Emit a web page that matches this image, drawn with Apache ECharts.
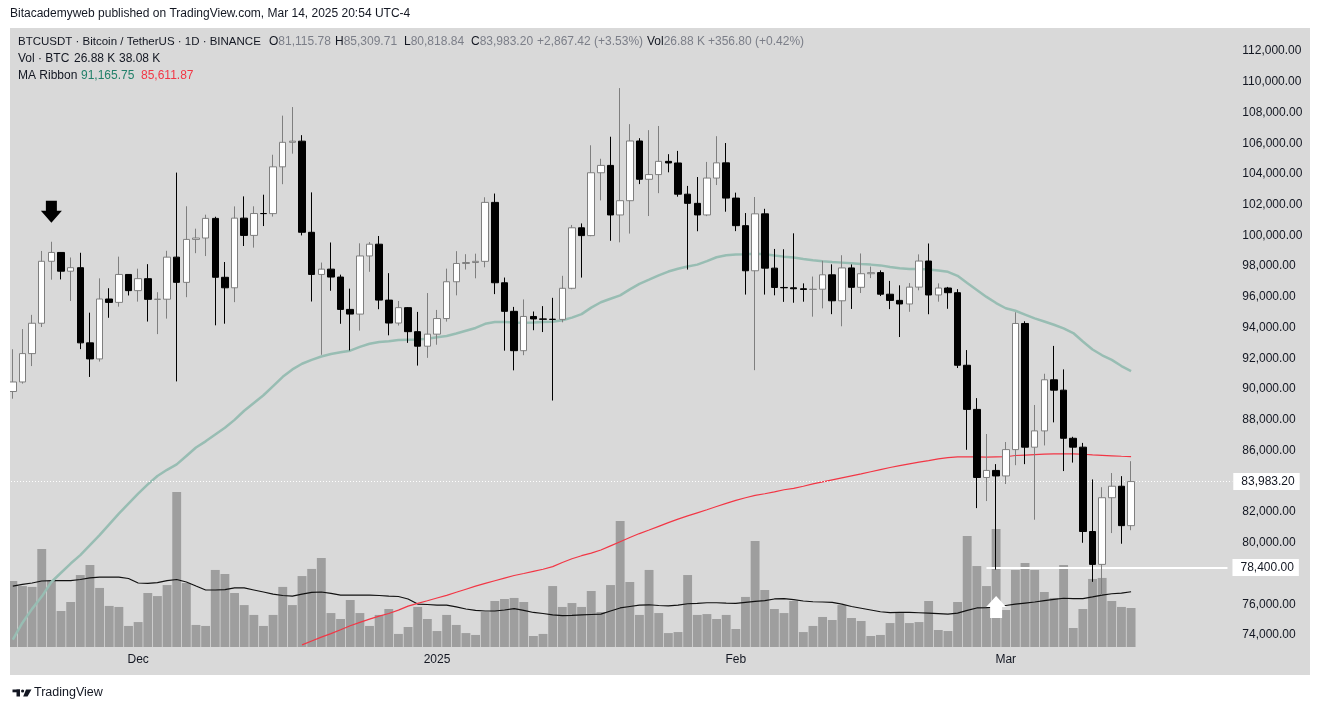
<!DOCTYPE html>
<html><head><meta charset="utf-8">
<script src="https://cdn.jsdelivr.net/npm/echarts/dist/echarts.min.js"></script>
<style>html,body{margin:0;padding:0;background:#fff}#c{width:1320px;height:710px}</style>
</head><body><div id="c"></div><script>
const FONT = "'Liberation Sans', Arial, sans-serif";

const dates = [
'2024-11-18','2024-11-19','2024-11-20','2024-11-21','2024-11-22','2024-11-23','2024-11-24','2024-11-25','2024-11-26','2024-11-27','2024-11-28','2024-11-29','2024-11-30',
'2024-12-01','2024-12-02','2024-12-03','2024-12-04','2024-12-05','2024-12-06','2024-12-07','2024-12-08','2024-12-09','2024-12-10','2024-12-11','2024-12-12','2024-12-13','2024-12-14','2024-12-15','2024-12-16','2024-12-17','2024-12-18','2024-12-19','2024-12-20','2024-12-21','2024-12-22','2024-12-23','2024-12-24','2024-12-25','2024-12-26','2024-12-27','2024-12-28','2024-12-29','2024-12-30','2024-12-31',
'2025-01-01','2025-01-02','2025-01-03','2025-01-04','2025-01-05','2025-01-06','2025-01-07','2025-01-08','2025-01-09','2025-01-10','2025-01-11','2025-01-12','2025-01-13','2025-01-14','2025-01-15','2025-01-16','2025-01-17','2025-01-18','2025-01-19','2025-01-20','2025-01-21','2025-01-22','2025-01-23','2025-01-24','2025-01-25','2025-01-26','2025-01-27','2025-01-28','2025-01-29','2025-01-30','2025-01-31',
'2025-02-01','2025-02-02','2025-02-03','2025-02-04','2025-02-05','2025-02-06','2025-02-07','2025-02-08','2025-02-09','2025-02-10','2025-02-11','2025-02-12','2025-02-13','2025-02-14','2025-02-15','2025-02-16','2025-02-17','2025-02-18','2025-02-19','2025-02-20','2025-02-21','2025-02-22','2025-02-23','2025-02-24','2025-02-25','2025-02-26','2025-02-27','2025-02-28',
'2025-03-01','2025-03-02','2025-03-03','2025-03-04','2025-03-05','2025-03-06','2025-03-07','2025-03-08','2025-03-09','2025-03-10','2025-03-11','2025-03-12','2025-03-13','2025-03-14'];
const padDates = ['2025-03-15','2025-03-16','2025-03-17','2025-03-18','2025-03-19','2025-03-20','2025-03-21','2025-03-22','2025-03-23','2025-03-24'];
const tickLabels = {'2024-12-01':'Dec','2025-01-01':'2025','2025-02-01':'Feb','2025-03-01':'Mar'};

const opens = [89845,90464,92310,94286,98317,98892,97672,97900,93010,91965,95863,95643,97460,
96407,97185,95840,95849,98587,96945,99740,99831,101109,97276,96593,101125,100001,101424,101420,104463,106058,106133,100204,97461,97805,97291,95186,94881,98663,99429,95791,94299,95300,93738,92792,
93576,94591,96985,98174,98236,98314,102150,96920,95060,92500,94727,94566,94545,94536,96560,100497,99987,104077,104556,101331,102260,106144,103653,103958,104819,104714,102682,102087,101332,103733,104722,
102429,100635,97700,101405,97871,96615,96593,96529,96482,96500,97437,95747,97885,96623,97508,97580,96175,95773,95539,96635,98333,96125,96577,96273,91552,88680,84250,84708,
84349,86064,94270,86220,87281,90606,89931,86801,86222,80734,78595,82932,83680,81115.78];
const highs = [92594,93905,94831,98988,99588,98908,98564,98871,94973,97208,96564,98619,97463,
97836,98130,96305,99000,104088,101898,100439,101350,101215,98270,101888,102540,101895,102650,105250,107793,108353,106524,102800,98233,99540,97448,96538,99487,99569,99963,97544,95733,95340,95024,96250,
95151,97839,98976,98778,98813,102482,102724,97258,95349,95836,95050,95400,95940,97371,100681,100781,105865,104988,106422,109588,107240,106327,106850,107120,105286,105500,103221,103800,104782,106457,106012,
102783,101456,102500,101732,99120,99100,100137,96880,97323,98345,98119,98711,98111,98826,97972,97725,97040,96753,96899,98766,99475,96880,96650,96503,92540,89414,87078,85120,
86558,95000,94416,88967,91000,92810,91283,86897,86500,84123,83617,84539,84336,85309.71];
const lows = [89376,90357,91500,94040,97122,97136,95734,92600,90791,91792,94640,95364,96092,
95693,94395,93578,94587,90500,95981,98844,98657,94150,94256,95658,99311,99205,100609,101227,103333,105321,100000,95700,92232,96398,94250,92520,93806,97632,95199,93500,94135,93009,91530,92033,
92888,94392,96100,97781,97210,97926,96181,92500,91220,92206,93831,93712,89256,94346,96500,97256,99950,102277,99651,99550,100119,103339,101262,102750,104106,102520,97777,100272,101256,103278,101543,
100279,96150,91231,96150,96102,95676,95620,95688,94713,95256,94876,94088,95217,96252,97223,96055,95205,93388,95029,96430,94871,95688,95227,91371,86050,82256,82716,78258,
83824,85050,85117,81500,86334,87836,84667,85218,80000,77459,76606,80633,79939,80818.84];
const closes = [90464,92310,94286,98317,98892,97672,97900,93010,91965,95863,95643,97460,96407,
97185,95840,95849,98587,96945,99740,99831,101109,97276,96593,101125,100001,101424,101420,104463,106058,106133,100204,97461,97805,97291,95186,94881,98663,99429,95791,94299,95300,93738,92792,93576,
94591,96985,98174,98236,98314,102150,96920,95060,92500,94727,94566,94545,94536,96560,100497,99987,104077,104556,101331,102260,106144,103653,103958,104819,104714,102682,102087,101332,103733,104722,102429,
100635,97700,101405,97871,96615,96593,96529,96482,96500,97437,95747,97885,96623,97508,97580,96175,95773,95539,96635,98333,96125,96577,96273,91552,88680,84250,84708,84349,
86064,94270,86220,87281,90606,89931,86801,86222,80734,78595,82932,83680,81115.78,83983.20];

// volume in thousands of BTC
const volumes = [45.5,42.0,41.4,67.5,45.5,24.8,31.0,49.6,56.5,40.7,28.3,27.6,14.5,
17.2,37.2,35.1,42.7,106.8,44.1,15.2,14.5,53.1,50.3,37.2,28.9,22.1,14.5,22.1,41.4,28.9,48.9,53.8,61.3,23.4,19.3,32.4,23.4,14.5,22.1,26.2,9.0,13.8,27.6,19.3,
11.0,22.1,15.2,9.6,8.3,24.1,31.7,33.1,33.8,31.0,7.6,9.0,42.0,27.6,30.3,27.6,38.6,24.1,42.7,86.8,44.8,22.1,53.1,23.4,9.6,10.3,49.6,22.1,22.7,19.3,22.1,
12.4,34.5,73.1,39.3,26.2,23.4,31.7,10.3,14.5,20.7,18.6,28.9,20.0,17.9,7.6,8.3,16.5,23.4,16.5,17.2,31.7,11.7,11.0,31.0,76.5,55.8,42.0,81.3,
25.5,53.1,57.9,53.1,37.9,33.8,56.5,13.1,26.2,46.9,47.6,31.7,27.6,26.88];
const volumeMA = [42.0,43.1,44.1,45.5,45.8,45.8,45.8,46.5,47.6,48.2,48.2,48.2,47.2,
44.1,43.8,44.4,45.8,46.5,44.8,42.0,39.3,39.3,39.6,40.7,40.7,39.3,37.9,36.5,35.5,35.1,36.5,37.6,37.9,36.9,35.8,35.8,35.8,35.8,35.5,35.1,34.8,33.1,29.6,29.3,
28.9,28.9,27.6,26.2,25.2,24.8,24.8,25.5,26.5,25.2,23.8,23.1,22.1,21.6,21.8,22.1,22.4,22.7,24.8,26.9,27.9,28.9,29.1,28.6,28.4,28.9,29.8,30.1,30.5,30.5,30.2,
30.0,30.7,31.4,32.0,33.1,33.4,32.7,31.7,31.2,31.0,30.7,29.6,27.9,26.7,25.5,24.3,23.7,23.8,23.9,23.6,23.3,23.0,22.7,23.4,25.2,26.9,27.2,27.7,
28.6,29.5,30.3,31.0,31.9,32.8,33.6,33.4,33.3,34.5,35.8,36.7,37.1,38.08];
const maRibbonFast = [73700,74800,75700,76500,77450,78050,78650,79200,79850,80500,81200,81900,82550,
83200,83800,84350,84750,85100,85650,86200,86600,87050,87480,88000,88590,89100,89600,90200,90800,91280,91650,91900,92120,92280,92400,92500,92750,92950,93070,93120,93190,93210,93230,93270,
93380,93460,93620,93800,93980,94250,94360,94360,94330,94320,94340,94370,94390,94480,94650,94880,95300,95650,95880,96100,96490,96850,97120,97400,97650,97830,97980,98100,98330,98580,98710,
98760,98770,98800,98780,98690,98620,98570,98470,98380,98320,98270,98230,98190,98140,98100,98050,97940,97860,97815,97815,97780,97710,97630,97370,96900,96450,96000,95600,
95260,95100,94850,94600,94400,94190,93950,93650,93100,92580,92200,91900,91500,91165.75];
const maRibbonSlow = [null,null,null,null,null,null,null,null,null,null,null,null,null,
null,null,null,null,null,null,null,null,null,null,null,null,null,null,null,null,null,73360,73610,73860,74090,74340,74600,74820,75030,75230,75400,75620,75880,76060,76230,
76410,76580,76780,76980,77180,77360,77530,77700,77870,78000,78140,78280,78450,78720,78960,79160,79330,79530,79800,80070,80340,80600,80830,81070,81310,81540,81750,81950,82150,82360,82560,
82760,82930,83080,83190,83310,83450,83540,83680,83830,83960,84090,84220,84350,84480,84620,84760,84900,85020,85140,85250,85350,85460,85540,85590,85600,85590,85580,85590,
85600,85680,85710,85740,85770,85780,85790,85780,85760,85720,85690,85660,85630,85611.87];

const lastPrice = 83983.20;
const supportLevel = 78400;
const hiddenTick = 78000;

const categories = dates.concat(padDates);
const candleData = dates.map((d, i) => [opens[i], closes[i], lows[i], highs[i]]);
const fmt = v => Number(v).toLocaleString('en-US', {minimumFractionDigits: 2, maximumFractionDigits: 2});

const chart = echarts.init(document.getElementById('c'));
const G = {left: 8, right: 87.7};
const txt = (x, y, text, fill, extra) => Object.assign({type: 'text', x: x, y: y, z: 100, silent: true,
  style: Object.assign({text: text, fill: fill, font: '12px ' + FONT, verticalAlign: 'middle'}, extra || {})});
const GREY = '#7b7e88', DARK = '#131722';
const richG = {rich: {g: {fill: GREY, font: '12px ' + FONT}}};

chart.setOption({
  animation: false,
  backgroundColor: '#ffffff',
  textStyle: {fontFamily: FONT},
  grid: [
    {left: G.left, right: G.right, top: 51, bottom: 75},
    {left: G.left, right: G.right, top: 28, bottom: 63}
  ],
  xAxis: [
    {type: 'category', gridIndex: 0, data: categories, boundaryGap: true,
     axisLine: {show: false}, axisTick: {show: false}, axisLabel: {show: false}, splitLine: {show: false}},
    {type: 'category', gridIndex: 1, data: categories, boundaryGap: true,
     axisLine: {show: false}, axisTick: {show: false}, splitLine: {show: false},
     axisLabel: {interval: (i, v) => v in tickLabels, formatter: v => tickLabels[v] || '',
       color: DARK, fontSize: 12, margin: 7, fontFamily: FONT}}
  ],
  yAxis: [
    {type: 'value', gridIndex: 0, position: 'right', min: 74000, max: 112000, interval: 2000,
     splitLine: {show: false}, axisLine: {show: false}, axisTick: {show: false},
     axisLabel: {margin: 10, color: DARK, fontSize: 12, fontFamily: FONT, formatter: v => (v === hiddenTick ? '' : fmt(v))}},
    {type: 'value', gridIndex: 1, min: 0, max: 426.6, show: false}
  ],
  graphic: {elements: [
    {type: 'rect', shape: {x: 10, y: 28, width: 1300, height: 647}, style: {fill: '#d9d9d9'}, z: -10, silent: true},
    {type: 'rect', shape: {x: 0, y: 28, width: 10, height: 647}, style: {fill: '#ffffff'}, z: 90, silent: true},
    txt(10, 14, 'Bitacademyweb published on TradingView.com, Mar 14, 2025 20:54 UTC-4', DARK),
    txt(18, 42, 'BTCUSDT · Bitcoin / TetherUS · 1D · BINANCE', DARK, {font: '11.5px ' + FONT}),
    txt(269, 42, 'O{g|81,115.78}', DARK, richG),
    txt(335, 42, 'H{g|85,309.71}', DARK, richG),
    txt(404, 42, 'L{g|80,818.84}', DARK, richG),
    txt(471, 42, 'C{g|83,983.20}', DARK, richG),
    txt(537, 42, '+2,867.42 (+3.53%)', GREY),
    txt(647, 42, 'Vol{g|26.88 K}', DARK, richG),
    txt(708, 42, '+356.80 (+0.42%)', GREY),
    txt(18, 59, 'Vol · BTC', DARK),
    txt(74, 59, '26.88 K', DARK),
    txt(119, 59, '38.08 K', DARK),
    txt(18, 76, 'MA Ribbon', DARK),
    txt(81, 76, '91,165.75', '#22806a'),
    txt(141, 76, '85,611.87', '#f23645'),
    {type: 'rect', shape: {x: 12.5, y: 689.5, width: 7.5, height: 2.8}, style: {fill: DARK}, z: 100, silent: true},
    {type: 'rect', shape: {x: 16.5, y: 689.5, width: 3.5, height: 7}, style: {fill: DARK}, z: 100, silent: true},
    {type: 'circle', shape: {cx: 22.6, cy: 691, r: 1.6}, style: {fill: DARK}, z: 100, silent: true},
    {type: 'polygon', shape: {points: [[26, 689.5], [31.5, 689.5], [27.5, 696.5], [23.2, 696.5]]}, style: {fill: DARK}, z: 100, silent: true},
    txt(34, 692.5, 'TradingView', DARK, {font: '12.5px ' + FONT})
  ]},
  series: [
    {name: 'Vol', type: 'bar', xAxisIndex: 1, yAxisIndex: 1, data: volumes, barCategoryGap: '8%',
     itemStyle: {color: '#9e9e9e'}, z: 1, silent: true},
    {name: 'Vol MA', type: 'line', xAxisIndex: 1, yAxisIndex: 1, data: volumeMA, symbol: 'none',
     lineStyle: {color: '#111111', width: 1.2}, z: 3, silent: true},
    {name: 'MA fast', type: 'line', xAxisIndex: 0, yAxisIndex: 0, data: maRibbonFast, symbol: 'none', clip: false,
     lineStyle: {color: '#98bdb3', width: 2.5}, z: 3, silent: true},
    {name: 'MA slow', type: 'line', xAxisIndex: 0, yAxisIndex: 0, data: maRibbonSlow, symbol: 'none', clip: false,
     lineStyle: {color: '#f23645', width: 1.2}, z: 3, silent: true},
    {name: 'BTCUSDT', type: 'candlestick', xAxisIndex: 0, yAxisIndex: 0, data: candleData, barWidth: 7, z: 5,
     itemStyle: {color: '#ffffff', color0: '#000000', borderColor: '#7f7f7f', borderColor0: '#000000', borderWidth: 1},
     markLine: {silent: true, symbol: ['none', 'none'], animation: false,
       data: [
         {yAxis: lastPrice, lineStyle: {color: '#ffffff', type: [1, 2], width: 1},
          label: {show: true, position: 'end', distance: 1, formatter: fmt(lastPrice), backgroundColor: '#ffffff',
                  color: DARK, fontSize: 12, fontFamily: FONT, padding: [3, 5, 2, 8]}},
         [{coord: ['2025-02-27', supportLevel], lineStyle: {color: '#ffffff', type: 'solid', width: 2},
           label: {show: true, position: 'end', distance: 5, formatter: fmt(supportLevel), backgroundColor: '#ffffff',
                   color: DARK, fontSize: 12, fontFamily: FONT, padding: [3, 5, 2, 8]}},
          {coord: ['2025-03-24', supportLevel]}]
       ]},
     markPoint: {silent: true, animation: false, label: {show: false},
       data: [
         {coord: ['2024-11-22', 101540], symbol: 'path://M5,0 L16,0 L16,10 L21,10 L10.5,22 L0,10 L5,10 Z',
          symbolSize: [21, 22], itemStyle: {color: '#000000'}},
         {coord: ['2025-02-28', 75820], symbol: 'path://M10,0 L20,11 L16,11 L16,22 L4,22 L4,11 L0,11 Z',
          symbolSize: [20, 22], itemStyle: {color: '#ffffff'}}
       ]}
    }
  ]
});
</script></body></html>
